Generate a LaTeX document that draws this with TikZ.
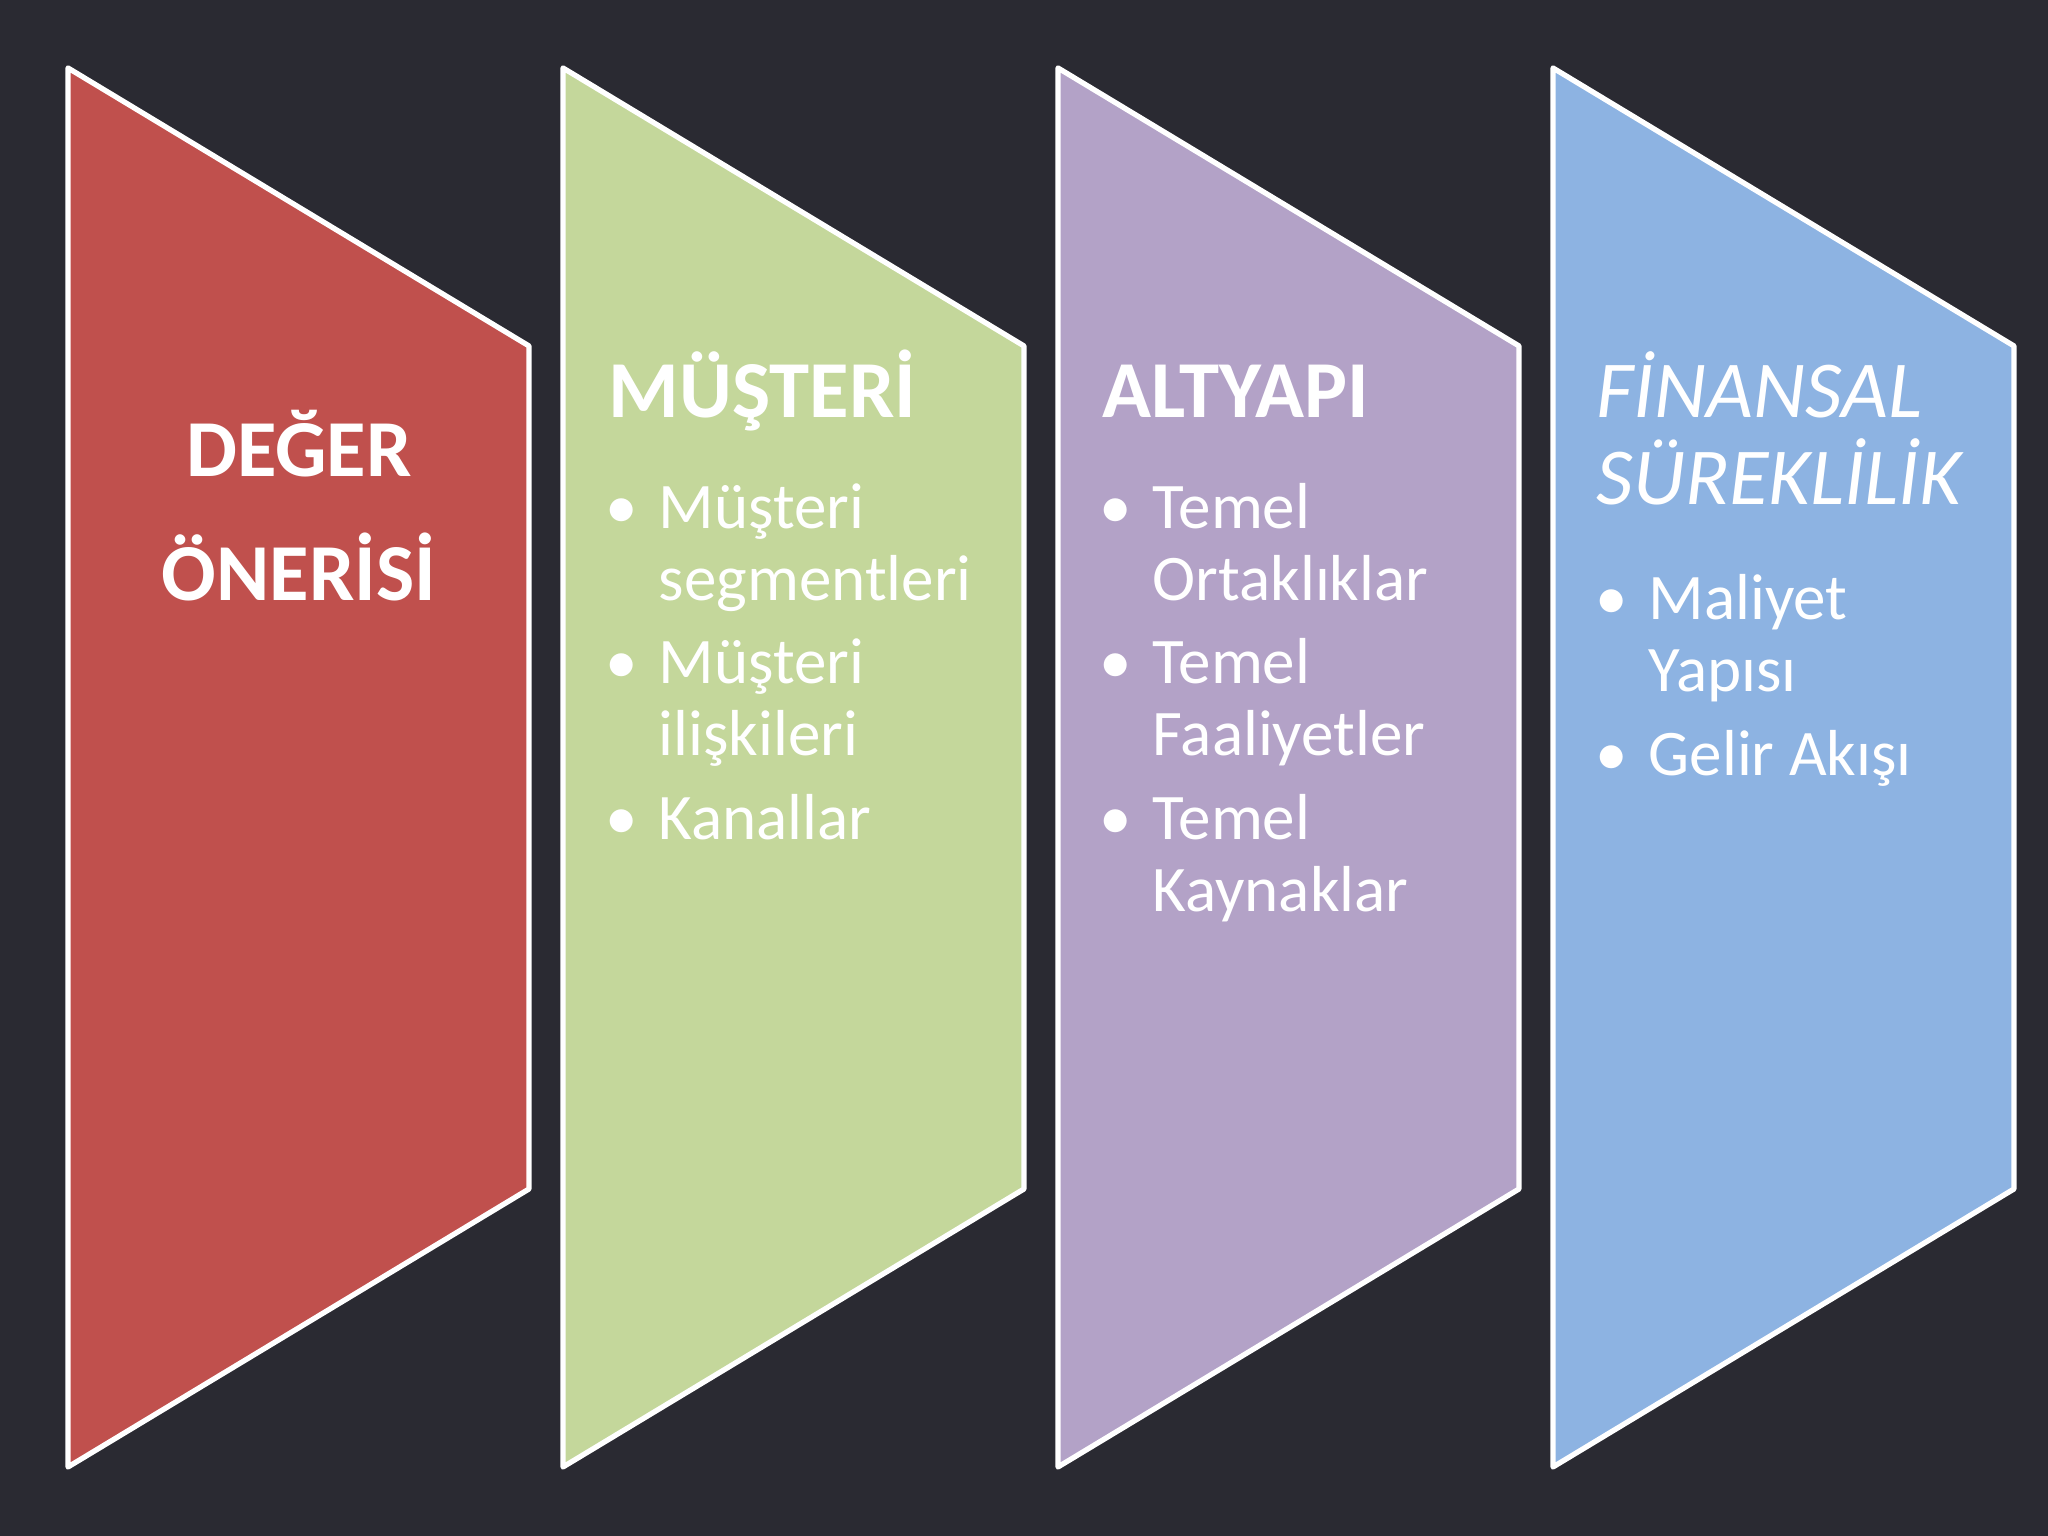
\documentclass[tikz,border=0pt]{standalone}
\usepackage{fontspec}
\setmainfont{Carlito}
\definecolor{backdark}{RGB}{42,42,50}
\definecolor{degerred}{RGB}{192,80,77}
\definecolor{musgreen}{RGB}{196,215,155}
\definecolor{altpurple}{RGB}{179,162,199}
\definecolor{finblue}{RGB}{141,179,226}
\begin{document}
\begin{tikzpicture}[
    panel/.style={draw=white,line width=1.5pt,line join=round},
    redtitle/.style={anchor=base,text=white,inner sep=0pt,font=\fontsize{23}{28}\selectfont\bfseries},
    title/.style={anchor=base west,text=white,inner sep=0pt,font=\fontsize{23}{28}\selectfont\bfseries},
    ititle/.style={anchor=base west,text=white,inner sep=0pt,font=\fontsize{23}{28}\selectfont\itshape},
    item/.style={anchor=base west,text=white,inner sep=0pt,font=\fontsize{18.5}{22}\selectfont},
    dot/.style={anchor=base,text=white,inner sep=0pt,font=\fontsize{18.5}{22}\selectfont}]
        \useasboundingbox (0,0) rectangle (20.48,15.36);
        \fill[backdark] (0,0) rectangle (20.48,15.36);
        % four panels
        \foreach \i/\c in {0/degerred,1/musgreen,2/altpurple,3/finblue}
        \draw[panel,fill=\c] (0.68+4.95*\i,14.68)--(5.29+4.95*\i,11.90)
            --(5.29+4.95*\i,3.47)--(0.68+4.95*\i,0.69)--cycle;
        % deger
        \node[redtitle] (deger) at (2.99,10.59) {DEĞER};
        \node[redtitle] (onerisi) at (2.99,9.35) {ÖNERİSİ};
        % musteri
        \node[title] (musteri) at (6.08,11.18) {MÜŞTERİ};
        \foreach \t/\y [count=\k] in {Müşteri/10.07,segmentleri/9.35,Müşteri/8.52,ilişkileri/7.80,Kanallar/6.96}
        \node[item] (mus\k) at (6.58,\y) {\t};
        \foreach \y [count=\k] in {10.07,8.52,6.96}
        \node[dot] (musdot\k) at (6.22,\y) {\textbullet};
        % altyapi
        \node[title] (altyapi) at (11.02,11.18) {ALTYAPI};
        \foreach \t/\y [count=\k] in {Temel/10.07,Ortaklıklar/9.35,Temel/8.52,Faaliyetler/7.80,Temel/6.96,Kaynaklar/6.24}
        \node[item] (alt\k) at (11.52,\y) {\t};
        \foreach \y [count=\k] in {10.07,8.52,6.96}
        \node[dot] (altdot\k) at (11.16,\y) {\textbullet};
        % finansal
        \node[ititle] (finansal) at (15.96,11.18) {FİNANSAL};
        \node[ititle] (sureklilik) at (15.96,10.31) {SÜREKLİLİK};
        \foreach \t/\y [count=\k] in {Maliyet/9.16,Yapısı/8.44,Gelir Akışı/7.60}
        \node[item] (fin\k) at (16.48,\y) {\t};
        \foreach \y [count=\k] in {9.16,7.60}
        \node[dot] (findot\k) at (16.12,\y) {\textbullet};
    \end{tikzpicture}
\end{document}
